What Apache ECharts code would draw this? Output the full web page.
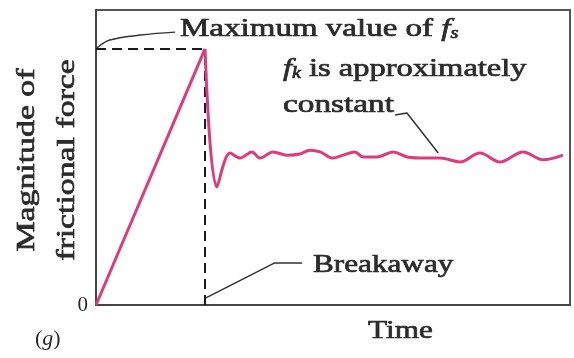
<!DOCTYPE html>
<html>
<head>
<meta charset="utf-8">
<script src="https://cdn.jsdelivr.net/npm/echarts@6/dist/echarts.min.js"></script>
<style>
  html, body { margin: 0; padding: 0; background: #fff; }
  #chart { width: 574px; height: 358px; }
</style>
</head>
<body>
<div id="chart"></div>
<script>
// Friction force vs. time: static friction builds up linearly to its maximum,
// the object breaks away, then kinetic friction fluctuates about a constant value.

// Time (arbitrary units, 0-100) and force magnitude (arbitrary units, 0-100)
const staticTime  = [0, 23.0];
const staticForce = [0, 86.8];

const kineticTime  = [23.0, 25.5, 28.3, 30.4, 32.9, 34.6, 37.3, 40.3, 43.0, 45.1, 47.3, 50.0,
                      52.1, 54.6, 56.3, 59.3, 62.7, 65.6, 69.8, 72.6, 76.8, 81.0, 85.2, 90.1,
                      94.3, 98.5];
const kineticForce = [86.8, 40.0, 51.5, 49.8, 51.9, 49.8, 51.9, 50.8, 51.2, 52.5, 51.9, 49.8,
                      50.8, 51.9, 50.2, 50.2, 51.9, 50.2, 49.8, 49.8, 48.5, 51.5, 48.5, 51.9,
                      49.2, 50.8];

// Reference guides at the breakaway point
const breakawayTime = 23.0;
const maxStatic = 86.8;

// Leader lines from the labels to the curve
const maxLeaderX = [0.2, 2.9, 9.3, 16.7];
const maxLeaderY = [87.1, 89.8, 91.5, 92.5];
const breakLeaderX = [23.2, 37.6, 43.5];
const breakLeaderY = [2.4, 14.2, 14.2];
const constLeaderX = [63.1, 65.6, 72.2];
const constLeaderY = [64.4, 65.1, 51.5];

const yTicks = [0, 100];

const zip = (xs, ys) => xs.map((x, i) => [x, ys[i]]);

const SERIF = "'Liberation Serif', 'Times New Roman', serif";
const INK = '#2b2b2b';
const PINK = '#dc3c7c';

const chart = echarts.init(document.getElementById('chart'), null, { renderer: 'canvas' });

const guideStyle = { color: '#1a1a1a', width: 2, type: [10, 6] };
const leaderStyle = { color: '#333', width: 1.5 };

// Medium-weight serif lettering: regular face with a thin outline
const ink = { fill: INK, stroke: INK, lineWidth: 0.7 };
const baseText = Object.assign({ fontFamily: SERIF, fontSize: 26 }, ink);

function label(x, y, wide, style) {
  return {
    type: 'text', x: x, y: y, scaleX: wide,
    style: Object.assign({}, baseText, { align: 'left', verticalAlign: 'top' }, style)
  };
}

const richSub = {
  t: Object.assign({ fontFamily: SERIF, fontSize: 26 }, ink),
  i: Object.assign({ fontFamily: SERIF, fontSize: 26, fontStyle: 'italic' }, ink),
  s: Object.assign({ fontFamily: SERIF, fontSize: 16, fontStyle: 'italic', padding: [10, 0, 0, 0] }, ink)
};

chart.setOption({
  animation: false,
  grid: {
    left: 96, right: 4, top: 10, bottom: 53,
    show: true, borderColor: '#555', borderWidth: 2, backgroundColor: 'transparent'
  },
  xAxis: {
    type: 'value', min: 0, max: 100,
    axisLine: { show: true, lineStyle: { color: '#444', width: 2 } },
    axisTick: { show: false }, axisLabel: { show: false }, splitLine: { show: false }
  },
  yAxis: {
    type: 'value', min: yTicks[0], max: yTicks[1], interval: 100,
    axisLine: { show: true, lineStyle: { color: '#444', width: 2 } },
    axisTick: { show: false }, splitLine: { show: false },
    axisLabel: {
      margin: 8, color: INK, fontFamily: SERIF, fontSize: 21,
      formatter: v => (v === 0 ? '0' : '')
    }
  },
  series: [
    { type: 'line', data: zip([0, breakawayTime], [maxStatic, maxStatic]), symbol: 'none', lineStyle: guideStyle, z: 1 },
    { type: 'line', data: zip([breakawayTime, breakawayTime], [0, maxStatic]), symbol: 'none', lineStyle: guideStyle, z: 1 },
    { type: 'line', data: zip(maxLeaderX, maxLeaderY), symbol: 'none', smooth: 0.4, lineStyle: leaderStyle, z: 1 },
    { type: 'line', data: zip(breakLeaderX, breakLeaderY), symbol: 'none', lineStyle: leaderStyle, z: 1 },
    { type: 'line', data: zip(constLeaderX, constLeaderY), symbol: 'none', lineStyle: leaderStyle, z: 1 },
    { type: 'line', data: zip(staticTime, staticForce), symbol: 'none', lineStyle: { color: PINK, width: 3 }, z: 3 },
    { type: 'line', data: zip(kineticTime, kineticForce), symbol: 'none', smooth: 0.35, lineStyle: { color: PINK, width: 3 }, z: 3 }
  ],
  graphic: [
    label(180, 16, 1.27, { text: '{t|Maximum value of }{i|f}{s|s}', rich: richSub }),
    label(283, 56, 1.25, { text: '{i|f}{s|k}{t| is approximately}', rich: richSub }),
    label(283, 92, 1.28, { text: 'constant' }),
    label(313, 252, 1.2, { text: 'Breakaway' }),
    label(368, 318, 1.2, { text: 'Time' }),
    {
      type: 'text', x: 47, y: 160, rotation: Math.PI / 2, scaleX: 1.3,
      style: Object.assign({}, baseText, {
        text: 'Magnitude of\nfrictional force', lineHeight: 40,
        align: 'center', verticalAlign: 'middle'
      })
    },
    label(35, 328, 1.0, {
      text: '({g|g})', fontSize: 22, lineWidth: 0,
      rich: { g: { fontFamily: SERIF, fontSize: 22, fontStyle: 'italic', fill: INK } }
    })
  ]
});
</script>
</body>
</html>
